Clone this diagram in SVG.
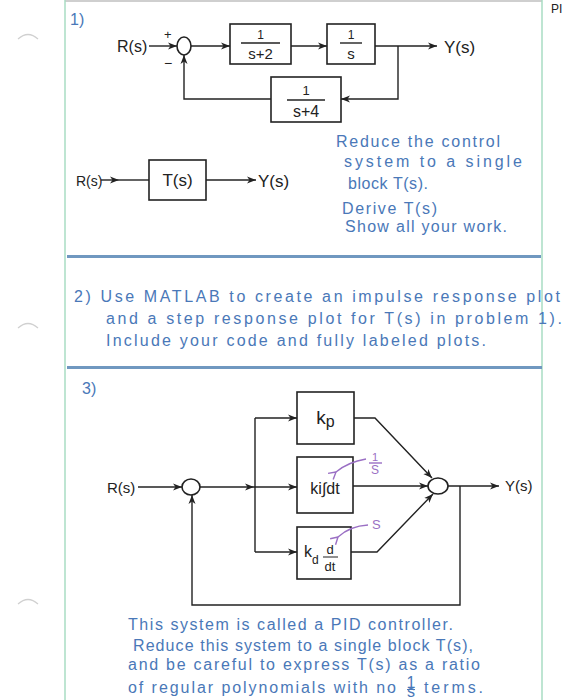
<svg xmlns="http://www.w3.org/2000/svg" width="580" height="700" viewBox="0 0 580 700">
<defs>
<style>
.bk{fill:none;stroke:#222;stroke-width:1.4}
.bx{fill:#fff;stroke:#222;stroke-width:1.6}
.t{font-family:"Liberation Sans",Arial,sans-serif;fill:#222}
.b{font-family:"Liberation Sans",Arial,sans-serif;fill:#4a78b8;font-size:16px}
.pu{font-family:"Liberation Sans",Arial,sans-serif;fill:#9a6fc4}
.pl{fill:none;stroke:#9a6fc4;stroke-width:1.4}
.arc{fill:none;stroke:#d0d0d0;stroke-width:1.2}
</style>
<marker id="ah" markerWidth="10" markerHeight="8" refX="9" refY="4" orient="auto" markerUnits="userSpaceOnUse">
<path d="M0,0.5 L9,4 L0,7.5 L2.5,4 Z" fill="#222"/>
</marker>
<marker id="pa" markerWidth="10" markerHeight="10" refX="1" refY="5" orient="auto-start-reverse" markerUnits="userSpaceOnUse">
<path d="M8,1 L1,5 L8,9" fill="none" stroke="#9a6fc4" stroke-width="1.4"/>
</marker>
</defs>
<rect width="580" height="700" fill="#fff"/>

<!-- page -->
<g id="page">
<line x1="65" y1="1" x2="542" y2="1" stroke="#cfcfcf" stroke-width="2"/>
<line x1="65" y1="0" x2="65" y2="700" stroke="#a9dcc3" stroke-width="1.5"/>
<line x1="542" y1="0" x2="542" y2="700" stroke="#a9dcc3" stroke-width="1.5"/>
<line x1="67" y1="256.5" x2="541" y2="256.5" stroke="#7098c0" stroke-width="3"/>
<line x1="67" y1="367.5" x2="542" y2="367.5" stroke="#7098c0" stroke-width="3"/>
<path class="arc" d="M18,39 Q28,30 38,39"/>
<path class="arc" d="M18,328 Q28,319 38,328"/>
<path class="arc" d="M18,604 Q28,595 38,604"/>
<text x="551" y="13" class="t" font-size="12">PI</text>
<text x="70" y="25" class="b" font-size="17">1)</text>
<text x="74" y="302" class="b" font-size="18" textLength="486" lengthAdjust="spacing">2) Use MATLAB to create an impulse response plot</text>
<text x="106" y="324" class="b" font-size="18" textLength="456" lengthAdjust="spacing">and a step response plot for T(s) in problem 1).</text>
<text x="106" y="346" class="b" font-size="18" textLength="380" lengthAdjust="spacing">Include your code and fully labeled plots.</text>
<text x="82" y="394" class="b" font-size="16">3)</text>
</g>

<!-- part 1 nodes -->
<g id="p1-R"><text x="117" y="52" class="t" font-size="16">R(s)</text></g>
<g id="p1-sum">
<ellipse cx="184" cy="46" rx="7" ry="9" class="bx"/>
<text x="164" y="39" class="t" font-size="13">+</text>
<text x="164" y="68" class="t" font-size="14">−</text>
</g>
<g id="p1-G1">
<rect x="230" y="24" width="61" height="40" class="bx"/>
<text x="260.5" y="39" class="t" font-size="12" text-anchor="middle">1</text>
<line x1="241" y1="43" x2="280" y2="43" class="bk"/>
<text x="260.5" y="59" class="t" font-size="15" text-anchor="middle">s+2</text>
</g>
<g id="p1-G2">
<rect x="327" y="24" width="48" height="40" class="bx"/>
<text x="351" y="39" class="t" font-size="12" text-anchor="middle">1</text>
<line x1="340" y1="43" x2="362" y2="43" class="bk"/>
<text x="351" y="59" class="t" font-size="15" text-anchor="middle">s</text>
</g>
<g id="p1-H">
<rect x="271" y="77" width="70" height="45" class="bx"/>
<text x="306" y="95" class="t" font-size="13" text-anchor="middle">1</text>
<line x1="287" y1="100" x2="325" y2="100" class="bk"/>
<text x="306" y="117" class="t" font-size="16" text-anchor="middle">s+4</text>
</g>
<g id="p1-Y"><text x="444" y="53" class="t" font-size="17">Y(s)</text></g>

<!-- part 1b -->
<g id="p1b-R"><text x="76" y="186" class="t" font-size="14">R(s)</text></g>
<g id="p1b-T">
<rect x="149" y="160" width="57" height="40" class="bx"/>
<text x="177.5" y="186" class="t" font-size="17" text-anchor="middle">T(s)</text>
</g>
<g id="p1b-Y"><text x="258" y="187" class="t" font-size="17">Y(s)</text></g>
<g id="p1-note">
<text x="336" y="147" class="b" font-size="17" textLength="164" lengthAdjust="spacing">Reduce the control</text>
<text x="344" y="167" class="b" font-size="17" textLength="178" lengthAdjust="spacing">system to a single</text>
<text x="348" y="189" class="b" font-size="16" textLength="80" lengthAdjust="spacing">block T(s).</text>
<text x="342" y="214" class="b" font-size="16" textLength="95" lengthAdjust="spacing">Derive T(s)</text>
<text x="345" y="232" class="b" font-size="16" textLength="162" lengthAdjust="spacing">Show all your work.</text>
</g>

<!-- part 3 nodes -->
<g id="p3-R"><text x="107" y="493" class="t" font-size="15">R(s)</text></g>
<g id="p3-sum1"><ellipse cx="191" cy="487" rx="9" ry="8" class="bx"/></g>
<g id="p3-Kp">
<rect x="297" y="392" width="57" height="52" class="bx"/>
<text x="325.5" y="424" class="t" font-size="19" text-anchor="middle">k<tspan font-size="16" dy="3">p</tspan></text>
</g>
<g id="p3-Ki">
<rect x="297" y="457" width="56" height="56" class="bx"/>
<text x="325" y="494" class="t" font-size="16" text-anchor="middle">ki∫dt</text>
</g>
<g id="p3-Kd">
<rect x="297" y="527" width="54" height="52" class="bx"/>
<text x="304" y="557" class="t" font-size="16">k</text>
<text x="312" y="564" class="t" font-size="12">d</text>
<text x="330" y="554" class="t" font-size="13" text-anchor="middle">d</text>
<line x1="323" y1="557" x2="338" y2="557" stroke="#222" stroke-width="1"/>
<text x="330" y="571" class="t" font-size="13" text-anchor="middle">dt</text>
</g>
<g id="p3-sum2"><ellipse cx="438" cy="486" rx="10" ry="8" class="bx"/></g>
<g id="p3-Y"><text x="505" y="491" class="t" font-size="15">Y(s)</text></g>
<g id="p3-annot">
<text x="375" y="461" class="pu" font-size="11" text-anchor="middle">1</text>
<line x1="369" y1="463" x2="382" y2="463" class="pl"/>
<text x="375" y="474" class="pu" font-size="12" text-anchor="middle">S</text>
<path class="pl" d="M366,459 Q348,462 336,472" marker-end="url(#pa)"/>
<text x="372" y="529" class="pu" font-size="13">S</text>
<path class="pl" d="M368,525 Q350,526 338,537" marker-end="url(#pa)"/>
</g>
<g id="p3-note">
<text x="128" y="630" class="b" textLength="325" lengthAdjust="spacing">This system is called a PID controller.</text>
<text x="133" y="651" class="b" textLength="340" lengthAdjust="spacing">Reduce this system to a single block T(s),</text>
<text x="128" y="670" class="b" textLength="352" lengthAdjust="spacing">and be careful to express T(s) as a ratio</text>
<text x="128" y="693" class="b" textLength="268" lengthAdjust="spacing">of regular polynomials with no</text>
<text x="411" y="688" class="b" font-size="7" text-anchor="middle">1<tspan x="411" dy="9">s</tspan></text>
<line x1="407" y1="689.5" x2="415" y2="689.5" stroke="#4a78b8" stroke-width="1"/>
<text x="424" y="693" class="b" textLength="59" lengthAdjust="spacing">terms.</text>
</g>

<!-- connectors -->
<g id="connectors">
<path class="bk" d="M149,46 L177,46" marker-end="url(#ah)"/>
<path class="bk" d="M191,46 L230,46" marker-end="url(#ah)"/>
<path class="bk" d="M291,46 L327,46" marker-end="url(#ah)"/>
<path class="bk" d="M375,46 L437,46" marker-end="url(#ah)"/>
<path class="bk" d="M398,46 L398,99 L341,99" marker-end="url(#ah)"/>
<path class="bk" d="M271,99 L184,99 L184,55" marker-end="url(#ah)"/>
<path class="bk" d="M101,180 L119,180" marker-end="url(#ah)"/>
<path class="bk" d="M119,180 L149,180"/>
<path class="bk" d="M206,180 L256,180" marker-end="url(#ah)"/>

<path class="bk" d="M138,487 L182,487" marker-end="url(#ah)"/>
<path class="bk" d="M200,487 L254,487" marker-end="url(#ah)"/>
<path class="bk" d="M254,487 L297,487" marker-end="url(#ah)"/>
<path class="bk" d="M255,418 L255,552"/>
<path class="bk" d="M255,418 L297,418" marker-end="url(#ah)"/>
<path class="bk" d="M255,552 L297,552" marker-end="url(#ah)"/>
<path class="bk" d="M354,418 L375,418 L432,478" marker-end="url(#ah)"/>
<path class="bk" d="M353,486 L428,486" marker-end="url(#ah)"/>
<path class="bk" d="M351,552 L377,552 L433,494" marker-end="url(#ah)"/>
<path class="bk" d="M448,486 L499,486" marker-end="url(#ah)"/>
<path class="bk" d="M460,486 L460,605 L192,605 L192,495" marker-end="url(#ah)"/>
</g>
</svg>
